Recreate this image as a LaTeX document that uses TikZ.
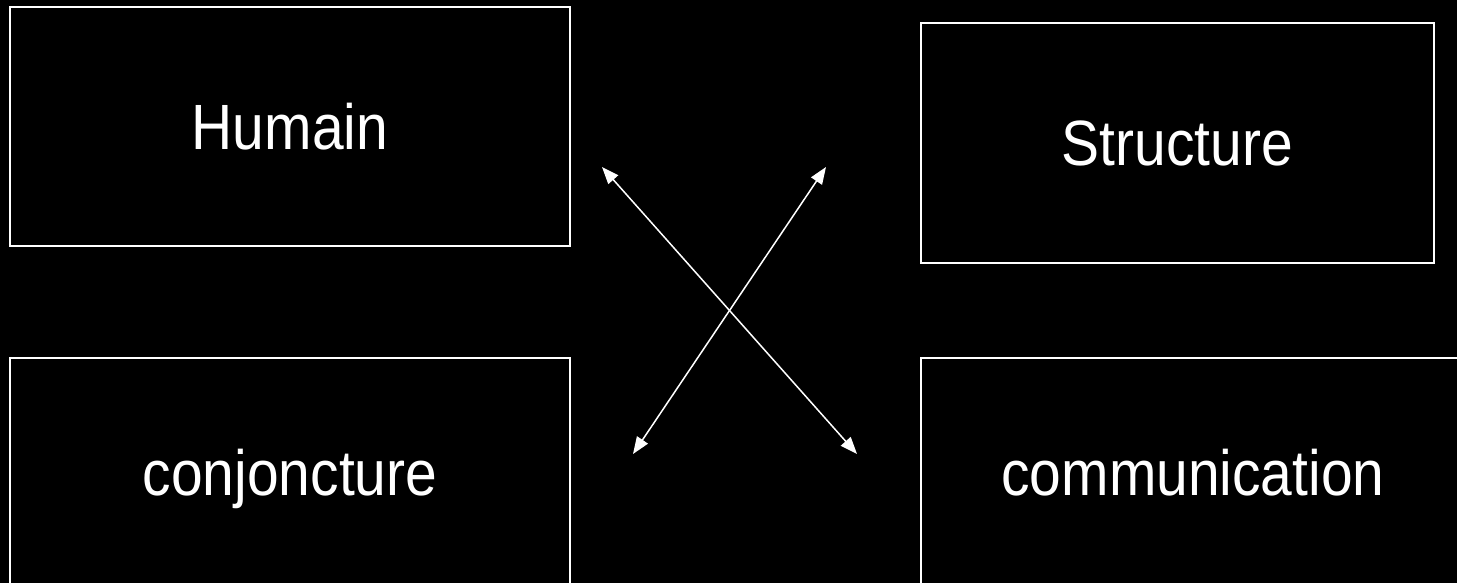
\documentclass[tikz,border=0pt]{standalone}
\usepackage{fontspec}
\setmainfont{Liberation Sans}[FakeStretch=0.89]
\usetikzlibrary{arrows.meta}
\tikzset{
  panel/.style={draw=white, line width=1.5pt, text=white, inner sep=0pt,
    font=\fontsize{64}{77}\selectfont, text height=46pt, text depth=0pt},
  link/.style={draw=white, line width=1.5pt,
    {Triangle[length=17pt,width=13pt]}-{Triangle[length=17pt,width=13pt]}}
}
\begin{document}
\begin{tikzpicture}[x=1pt,y=-1pt]
  \useasboundingbox (0,0) rectangle (1457,583);
  \fill[black] (0,0) rectangle (1457,583);
  \clip (0,0) rectangle (1457,583);
  % name, centre x, centre y, width, height, label
  \foreach \n/\cx/\cy/\w/\h/\lbl in {
    humain/290/126.5/560/239/Humain,
    structure/1177.5/143/513/240/Structure,
    conjoncture/290/472/560/228/conjoncture,
    communication/1193/472/544/228/communication}{%
    \node[panel, minimum width=\w, minimum height=\h] (\n) at (\cx,\cy) {\lbl};
  }
  \coordinate (hc1) at (602,167);
  \coordinate (hc2) at (857,454);
  \coordinate (sc1) at (826,167);
  \coordinate (sc2) at (633,454);
  \draw[link] (hc1) -- (hc2);
  \draw[link] (sc1) -- (sc2);
\end{tikzpicture}
\end{document}
